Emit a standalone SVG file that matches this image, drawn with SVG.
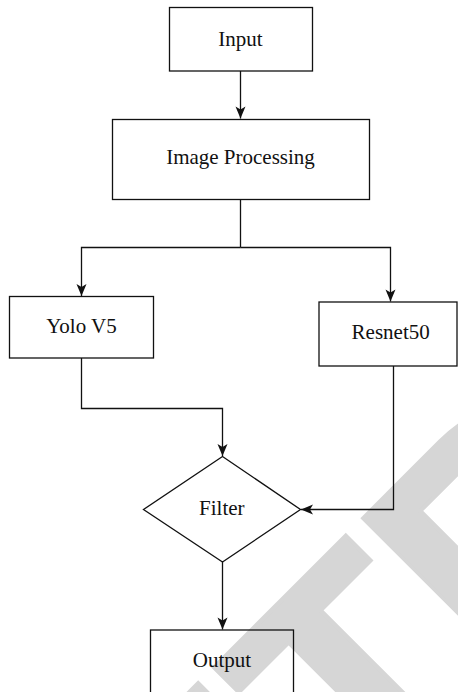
<svg xmlns="http://www.w3.org/2000/svg" width="458" height="692" viewBox="0 0 458 692">
  <style>
    .box { fill: none; stroke: #111; stroke-width: 1.3; }
    .edge { fill: none; stroke: #111; stroke-width: 1.3; }
    .label { font-family: "Liberation Serif", "Times New Roman", serif; font-size: 21px; fill: #111; text-anchor: middle; }
    .stamp { font-family: "Liberation Sans", Arial, sans-serif; font-weight: bold; font-size: 316.6px; fill: #d6d6d6; stroke: #d6d6d6; stroke-width: 4; stroke-linejoin: miter; font-kerning: none; }
  </style>
  <defs>
    <marker id="arrow" markerUnits="userSpaceOnUse" markerWidth="13" markerHeight="11" viewBox="-13 -5.5 13 11" refX="0" refY="0" orient="auto">
      <path d="M0,0 L-12,-5 L-9,0 L-12,5 Z" fill="#111"/>
    </marker>
  </defs>

  <rect width="458" height="692" fill="#fff"/>

  <!-- diagonal stamp behind the flowchart -->
  <g id="stamp" transform="rotate(-45)">
    <text class="stamp" x="-764" y="841">RETRACTED</text>
  </g>

  <!-- connectors -->
  <g id="connectors">
    <path class="edge" d="M240.5,71 V118.5" marker-end="url(#arrow)"/>
    <path class="edge" d="M240.5,199.5 V247.5"/>
    <path class="edge" d="M240.5,247.5 H81.5 V296" marker-end="url(#arrow)"/>
    <path class="edge" d="M240.5,247.5 H390.5 V301.5" marker-end="url(#arrow)"/>
    <path class="edge" d="M81.5,358 V408.5 H222.5 V456" marker-end="url(#arrow)"/>
    <path class="edge" d="M393.5,366 V509.5 H301" marker-end="url(#arrow)"/>
    <path class="edge" d="M222.5,562 V629.5" marker-end="url(#arrow)"/>
  </g>

  <!-- nodes -->
  <g id="input">
    <rect class="box" x="169.5" y="7.5" width="143" height="63.5"/>
    <text class="label" x="240.5" y="46">Input</text>
  </g>
  <g id="image-processing">
    <rect class="box" x="112.5" y="119.5" width="257" height="80"/>
    <text class="label" x="240.5" y="164.3">Image Processing</text>
  </g>
  <g id="yolo">
    <rect class="box" x="9.5" y="296.5" width="144" height="61.5"/>
    <text class="label" x="81.5" y="333.3">Yolo V5</text>
  </g>
  <g id="resnet">
    <rect class="box" x="319" y="302" width="138" height="64"/>
    <text class="label" x="390.7" y="339.3">Resnet50</text>
  </g>
  <g id="filter">
    <polygon class="box" points="222.5,456.5 300.5,509.5 222.5,562 143.5,509.5"/>
    <text class="label" x="221.8" y="515">Filter</text>
  </g>
  <g id="output">
    <rect class="box" x="150.5" y="630" width="143" height="80"/>
    <text class="label" x="222" y="666.7">Output</text>
  </g>
</svg>
